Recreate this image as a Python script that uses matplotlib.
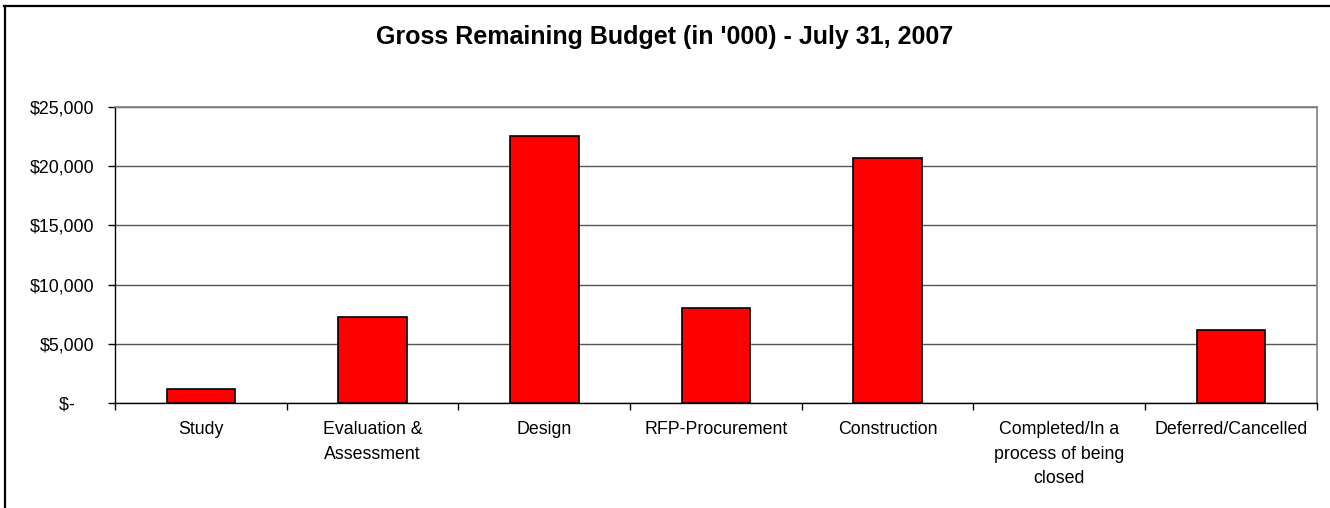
import numpy as np
import matplotlib.pyplot as plt
from matplotlib.lines import Line2D
from matplotlib.ticker import FixedLocator, FuncFormatter

plt.rcParams['font.family'] = ['Liberation Sans', 'DejaVu Sans']

# data (thousands of dollars)
categories = ['Study', 'Evaluation &\nAssessment', 'Design', 'RFP-Procurement',
              'Construction', 'Completed/In a\nprocess of being\nclosed', 'Deferred/Cancelled']
budget = [1200, 7300, 22500, 8000, 20700, 0, 6200]
y_ticks = [0, 5000, 10000, 15000, 20000, 25000]


def money(v, pos=None):
    if v == 0:
        return '$-    '
    return '${:,.0f}'.format(v)


W, H = 1330, 508
fig = plt.figure(figsize=(W / 100, H / 100), dpi=100)
ax = fig.add_axes([0.0865, 0.206, 0.9035, 0.584])

x = np.arange(len(categories))
# empty bars sit on the axis and show nothing
edges = [1.2 if v > 0 else 0 for v in budget]
ax.bar(x, budget, width=0.4, color='#FF0000', edgecolor='black', linewidth=edges, zorder=3)

ax.set_xlim(-0.5, len(categories) - 0.5)
ax.set_ylim(0, 25000)
ax.set_yticks(y_ticks)
ax.yaxis.set_major_formatter(FuncFormatter(money))
ax.yaxis.grid(True, color='#555555', linewidth=1, zorder=0)

# category labels at centres, tick marks at the boundaries
ax.set_xticks(x)
ax.set_xticklabels(categories, fontsize=12.8, linespacing=1.55)
ax.xaxis.set_minor_locator(FixedLocator(np.arange(-0.5, len(categories), 1.0)))
ax.tick_params(axis='x', which='major', length=0, pad=13)
ax.tick_params(axis='x', which='minor', length=5, width=1, direction='out')
ax.tick_params(axis='y', length=5, width=1, direction='out', labelsize=12.8, pad=10)

for side in ['left', 'bottom']:
    ax.spines[side].set_color('black')
    ax.spines[side].set_linewidth(1)
for side in ['top', 'right']:
    ax.spines[side].set_color('#808080')
    ax.spines[side].set_linewidth(1.2)

fig.text(0.5, 1 - 37 / H, "Gross Remaining Budget (in '000) - July 31, 2007",
         ha='center', va='center', fontsize=18, fontweight='bold')

# chart border (only top and left edges show)
fig.add_artist(Line2D([4 / W, 1], [1 - 6 / H, 1 - 6 / H], transform=fig.transFigure,
                      color='black', linewidth=1.6))
fig.add_artist(Line2D([4.5 / W, 4.5 / W], [0, 1 - 6 / H], transform=fig.transFigure,
                      color='black', linewidth=1.6))

fig.savefig('out.png', dpi=100)
